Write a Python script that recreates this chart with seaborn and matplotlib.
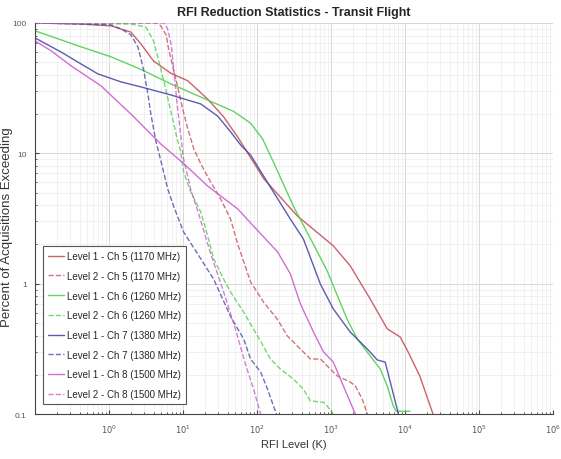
import numpy as np
import pandas as pd
import matplotlib
matplotlib.use("Agg")
import matplotlib.pyplot as plt
import seaborn as sns

# Exceedance curves: RFI level (K) vs. percent of acquisitions exceeding it
l1_ch5_k = [0.1, 0.42, 1.06, 1.98, 2.7, 4.0, 6.9, 11.6, 21.6, 35.5, 55, 123, 352, 1075, 1820, 3400, 5760, 8600, 10700, 15900, 23900]
l1_ch5_p = [100, 98, 95, 85, 69, 51, 41, 36, 26, 19, 13.3, 6.4, 3.3, 1.95, 1.37, 0.76, 0.45, 0.39, 0.31, 0.195, 0.1]

l2_ch5_k = [0.1, 4.3, 5.0, 5.9, 6.4, 7.3, 8.5, 9.9, 11.6, 14, 17.4, 21.6, 32.3, 44, 55, 82, 123, 190, 258, 386, 528, 720, 980, 1230, 1820, 2130, 2650, 3100]
l2_ch5_p = [100, 100, 95, 81, 63, 46, 32, 21.9, 15.4, 10.8, 8.3, 6.6, 4.46, 3.13, 2.0, 1.03, 0.72, 0.53, 0.396, 0.315, 0.264, 0.264, 0.221, 0.195, 0.176, 0.164, 0.13, 0.1]

l1_ch6_k = [0.1, 0.42, 1.06, 2.7, 6.9, 17.4, 48, 82, 119, 178, 312, 580, 890, 1230, 1660, 2270, 3400, 4640, 5760, 6950, 7600, 11700]
l1_ch6_p = [87, 65.5, 55, 44, 34, 27, 21, 17, 12.9, 7.9, 3.9, 2.0, 1.25, 0.80, 0.53, 0.376, 0.278, 0.221, 0.164, 0.115, 0.105, 0.105]

l2_ch6_k = [0.1, 2.0, 3.15, 4.0, 4.7, 5.5, 6.4, 7.5, 8.5, 9.3, 10.2, 12.7, 17.4, 21.6, 26, 35.5, 44, 66, 102, 152, 208, 312, 424, 528, 790, 890, 1075]
l2_ch6_p = [100, 98, 93, 72.8, 51, 35.9, 24.8, 16.8, 12.4, 10.4, 7.2, 5.05, 3.55, 2.32, 1.55, 1.08, 0.86, 0.605, 0.396, 0.264, 0.221, 0.185, 0.155, 0.126, 0.123, 0.115, 0.1]

l1_ch7_k = [0.1, 0.225, 0.42, 0.71, 1.45, 2.7, 6.9, 12.7, 17.4, 29.4, 44, 60, 82, 138, 282, 424, 720, 1075, 1820, 3100, 4220, 5400, 6700, 7850, 8100]
l1_ch7_p = [76.7, 59.8, 48.4, 40.6, 35.3, 32.3, 28, 25.2, 23.9, 19.3, 14.6, 11.6, 9.7, 6.0, 3.13, 2.2, 0.99, 0.64, 0.425, 0.315, 0.26, 0.25, 0.155, 0.109, 0.1]

l2_ch7_k = [0.1, 1.06, 1.45, 1.98, 2.46, 2.96, 3.35, 3.68, 4.3, 5.34, 6.24, 7.5, 10.2, 17.4, 26, 44, 66, 82, 112, 139, 167, 184]
l2_ch7_p = [100, 96.5, 90, 81, 65.5, 42.8, 28.5, 20, 12.4, 7.6, 5.3, 3.9, 2.49, 1.55, 1.08, 0.56, 0.376, 0.264, 0.21, 0.155, 0.115, 0.1]

l1_ch8_k = [0.1, 0.166, 0.308, 0.78, 1.32, 1.98, 2.96, 5.0, 10.3, 21.6, 55, 123, 190, 282, 386, 580, 790, 1075, 1470, 2130]
l1_ch8_p = [72.8, 61, 46.8, 32.9, 24.8, 20, 15.9, 11.8, 8.3, 5.6, 3.74, 2.28, 1.75, 1.19, 0.70, 0.425, 0.30, 0.25, 0.164, 0.1]

l2_ch8_k = [0.1, 5.5, 6.2, 6.9, 7.5, 8.2, 9.1, 10.2, 12.7, 16.3, 23.7, 34.4, 51, 70, 90, 112]
l2_ch8_p = [100, 100, 90, 69, 44, 26, 15.4, 9.0, 5.3, 3.42, 1.69, 0.91, 0.45, 0.24, 0.155, 0.1]

series_labels = [
    "Level 1 - Ch 5 (1170 MHz)", "Level 2 - Ch 5 (1170 MHz)",
    "Level 1 - Ch 6 (1260 MHz)", "Level 2 - Ch 6 (1260 MHz)",
    "Level 1 - Ch 7 (1380 MHz)", "Level 2 - Ch 7 (1380 MHz)",
    "Level 1 - Ch 8 (1500 MHz)", "Level 2 - Ch 8 (1500 MHz)",
]
series_k = [l1_ch5_k, l2_ch5_k, l1_ch6_k, l2_ch6_k, l1_ch7_k, l2_ch7_k, l1_ch8_k, l2_ch8_k]
series_p = [l1_ch5_p, l2_ch5_p, l1_ch6_p, l2_ch6_p, l1_ch7_p, l2_ch7_p, l1_ch8_p, l2_ch8_p]

x_ticks = [1e0, 1e1, 1e2, 1e3, 1e4, 1e5, 1e6]
x_tick_labels = ["$10^{0}$", "$10^{1}$", "$10^{2}$", "$10^{3}$", "$10^{4}$", "$10^{5}$", "$10^{6}$"]
y_ticks = [0.1, 1, 10, 100]
y_tick_labels = ["0.1", "1", "10", "100"]

colors = ["#c8505a", "#c8505a", "#4fd04f", "#4fd04f", "#4a4aa8", "#4a4aa8", "#cc5fcc", "#cc5fcc"]
styles = ["-", "--", "-", "--", "-", "--", "-", "--"]

frames = []
for lab, k, p in zip(series_labels, series_k, series_p):
    frames.append(pd.DataFrame({"RFI": k, "Pct": p, "Series": lab}))
df = pd.concat(frames, ignore_index=True)

sns.set_style("whitegrid")
plt.rcParams["font.family"] = ["Liberation Sans Narrow", "Liberation Sans", "DejaVu Sans"]

fig = plt.figure(figsize=(5.61, 4.60), dpi=100)
ax = fig.add_axes([0.0624, 0.0978, 0.9233, 0.8502])

for lab, col, ls in zip(series_labels, colors, styles):
    sub = df[df["Series"] == lab]
    sns.lineplot(data=sub, x="RFI", y="Pct", ax=ax, color=col, linestyle=ls,
                 linewidth=1.0, sort=False, estimator=None, label=lab,
                 alpha=0.9 if ls == "-" else 0.8)

ax.set_xscale("log")
ax.set_yscale("log")
ax.set_xlim(0.1, 1e6)
ax.set_ylim(0.1, 100)
ax.set_xticks(x_ticks)
ax.set_xticklabels(x_tick_labels, fontsize=6, color="#555555")
ax.set_yticks(y_ticks)
ax.set_yticklabels(y_tick_labels, fontsize=6, color="#555555")
ax.xaxis.set_minor_locator(matplotlib.ticker.LogLocator(base=10, subs=np.arange(2, 10)))
ax.yaxis.set_minor_locator(matplotlib.ticker.LogLocator(base=10, subs=np.arange(2, 10)))
ax.xaxis.set_minor_formatter(matplotlib.ticker.NullFormatter())
ax.yaxis.set_minor_formatter(matplotlib.ticker.NullFormatter())

ax.grid(True, which="major", color="#d8d8d8", linewidth=0.7)
ax.grid(True, which="minor", color="#ececec", linewidth=0.5)
ax.tick_params(axis="both", which="major", direction="in", length=3, color="#444444", pad=6)
ax.tick_params(axis="both", which="minor", direction="in", length=1.5, color="#444444")
ax.tick_params(axis="x", which="both", bottom=True)
ax.tick_params(axis="y", which="both", left=True)

for side in ["top", "right"]:
    ax.spines[side].set_visible(False)
for side in ["left", "bottom"]:
    ax.spines[side].set_color("#444444")
    ax.spines[side].set_linewidth(0.8)

ax.set_title("RFI Reduction Statistics - Transit Flight", fontsize=9, fontweight="bold", pad=6)
ax.set_xlabel("RFI Level (K)", fontsize=8, color="#333333", labelpad=3)
ax.set_ylabel("Percent of Acquisitions Exceeding", fontsize=9.5, color="#333333")
ax.yaxis.set_label_coords(-0.042, 0.48)

leg = ax.legend(loc="lower left", bbox_to_anchor=(0.0154, 0.0256), borderaxespad=0,
                fontsize=7, frameon=True, fancybox=False, edgecolor="#555555", framealpha=1,
                handlelength=1.7, handletextpad=0.3, labelspacing=1.0, borderpad=0.5)
leg.get_frame().set_linewidth(0.8)

fig.savefig("out.png", dpi=100, facecolor="white")
